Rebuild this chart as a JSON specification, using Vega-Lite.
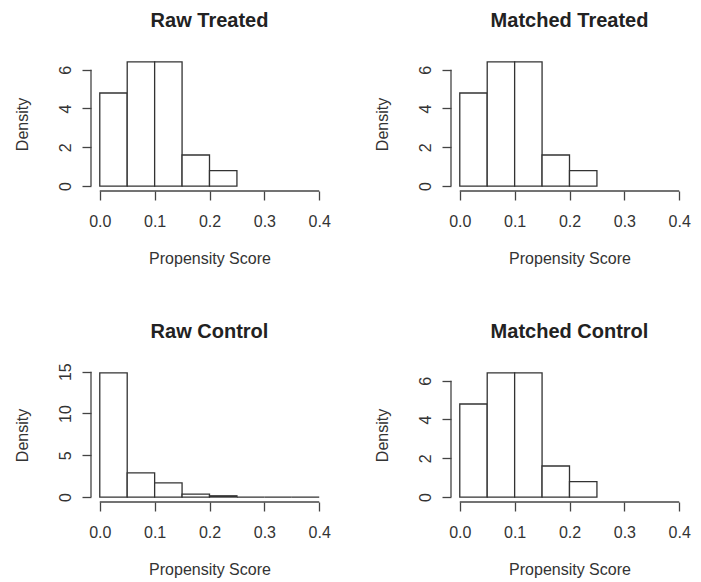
{
  "$schema": "https://vega.github.io/schema/vega-lite/v6.json",
  "background": "white",
  "padding": {"left": 14, "top": 11, "right": 5, "bottom": 5},
  "bounds": "flush",
  "spacing": {"row": 177, "column": 123},
  "columns": 2,
  "datasets": {
    "hist": [
      {"panel": "Raw Treated", "x0": 0.0, "x1": 0.05, "density": 4.8},
      {"panel": "Raw Treated", "x0": 0.05, "x1": 0.1, "density": 6.4},
      {"panel": "Raw Treated", "x0": 0.1, "x1": 0.15, "density": 6.4},
      {"panel": "Raw Treated", "x0": 0.15, "x1": 0.2, "density": 1.6},
      {"panel": "Raw Treated", "x0": 0.2, "x1": 0.25, "density": 0.8},
      {"panel": "Matched Treated", "x0": 0.0, "x1": 0.05, "density": 4.8},
      {"panel": "Matched Treated", "x0": 0.05, "x1": 0.1, "density": 6.4},
      {"panel": "Matched Treated", "x0": 0.1, "x1": 0.15, "density": 6.4},
      {"panel": "Matched Treated", "x0": 0.15, "x1": 0.2, "density": 1.6},
      {"panel": "Matched Treated", "x0": 0.2, "x1": 0.25, "density": 0.8},
      {"panel": "Raw Control", "x0": 0.0, "x1": 0.05, "density": 14.85},
      {"panel": "Raw Control", "x0": 0.05, "x1": 0.1, "density": 2.9},
      {"panel": "Raw Control", "x0": 0.1, "x1": 0.15, "density": 1.7},
      {"panel": "Raw Control", "x0": 0.15, "x1": 0.2, "density": 0.35},
      {"panel": "Raw Control", "x0": 0.2, "x1": 0.25, "density": 0.15},
      {"panel": "Raw Control", "x0": 0.25, "x1": 0.3, "density": 0},
      {"panel": "Raw Control", "x0": 0.3, "x1": 0.35, "density": 0},
      {"panel": "Raw Control", "x0": 0.35, "x1": 0.4, "density": 0},
      {"panel": "Matched Control", "x0": 0.0, "x1": 0.05, "density": 4.8},
      {"panel": "Matched Control", "x0": 0.05, "x1": 0.1, "density": 6.4},
      {"panel": "Matched Control", "x0": 0.1, "x1": 0.15, "density": 6.4},
      {"panel": "Matched Control", "x0": 0.15, "x1": 0.2, "density": 1.6},
      {"panel": "Matched Control", "x0": 0.2, "x1": 0.25, "density": 0.8}
    ]
  },
  "concat": [
    {
      "title": "Raw Treated",
      "width": 237, "height": 134,
      "layer": [
        {
          "data": {"name": "hist"},
          "transform": [{"filter": "datum.panel === 'Raw Treated'"}],
          "mark": {"type": "rect", "fill": "white", "stroke": "#333", "strokeWidth": 1.3},
          "encoding": {
            "x": {"field": "x0", "type": "quantitative", "title": "Propensity Score",
                  "scale": {"domain": [-0.016, 0.416], "nice": false, "zero": false},
                  "axis": {"values": [0, 0.1, 0.2, 0.3, 0.4], "format": ".1f"}},
            "x2": {"field": "x1"},
            "y": {"field": "density", "type": "quantitative", "title": "Density",
                  "scale": {"domain": [-0.256, 6.656], "nice": false, "zero": false},
                  "axis": {"values": [0, 1, 2, 3, 4, 5, 6], "labelExpr": "datum.value % 2 === 0 ? datum.label : ''"}},
            "y2": {"datum": 0}
          }
        },
        {
          "data": {"values": [{}]},
          "mark": {"type": "rule", "color": "#444", "strokeWidth": 1.3},
          "encoding": {"x": {"datum": 0}, "x2": {"datum": 0.4}, "y": {"datum": -0.256}}
        },
        {
          "data": {"values": [{}]},
          "mark": {"type": "rule", "color": "#444", "strokeWidth": 1.3},
          "encoding": {"y": {"datum": 0}, "y2": {"datum": 6}, "x": {"datum": -0.016}}
        }
      ]
    },
    {
      "title": "Matched Treated",
      "width": 237, "height": 134,
      "layer": [
        {
          "data": {"name": "hist"},
          "transform": [{"filter": "datum.panel === 'Matched Treated'"}],
          "mark": {"type": "rect", "fill": "white", "stroke": "#333", "strokeWidth": 1.3},
          "encoding": {
            "x": {"field": "x0", "type": "quantitative", "title": "Propensity Score",
                  "scale": {"domain": [-0.016, 0.416], "nice": false, "zero": false},
                  "axis": {"values": [0, 0.1, 0.2, 0.3, 0.4], "format": ".1f"}},
            "x2": {"field": "x1"},
            "y": {"field": "density", "type": "quantitative", "title": "Density",
                  "scale": {"domain": [-0.256, 6.656], "nice": false, "zero": false},
                  "axis": {"values": [0, 1, 2, 3, 4, 5, 6], "labelExpr": "datum.value % 2 === 0 ? datum.label : ''"}},
            "y2": {"datum": 0}
          }
        },
        {
          "data": {"values": [{}]},
          "mark": {"type": "rule", "color": "#444", "strokeWidth": 1.3},
          "encoding": {"x": {"datum": 0}, "x2": {"datum": 0.4}, "y": {"datum": -0.256}}
        },
        {
          "data": {"values": [{}]},
          "mark": {"type": "rule", "color": "#444", "strokeWidth": 1.3},
          "encoding": {"y": {"datum": 0}, "y2": {"datum": 6}, "x": {"datum": -0.016}}
        }
      ]
    },
    {
      "title": {"text": "Raw Control", "offset": 21},
      "width": 237, "height": 134,
      "layer": [
        {
          "data": {"name": "hist"},
          "transform": [{"filter": "datum.panel === 'Raw Control'"}],
          "mark": {"type": "rect", "fill": "white", "stroke": "#333", "strokeWidth": 1.3},
          "encoding": {
            "x": {"field": "x0", "type": "quantitative", "title": "Propensity Score",
                  "scale": {"domain": [-0.016, 0.416], "nice": false, "zero": false},
                  "axis": {"values": [0, 0.1, 0.2, 0.3, 0.4], "format": ".1f"}},
            "x2": {"field": "x1"},
            "y": {"field": "density", "type": "quantitative", "title": "Density",
                  "scale": {"domain": [-0.594, 15.444], "nice": false, "zero": false},
                  "axis": {"values": [0, 5, 10, 15]}},
            "y2": {"datum": 0}
          }
        },
        {
          "data": {"values": [{}]},
          "mark": {"type": "rule", "color": "#444", "strokeWidth": 1.3},
          "encoding": {"x": {"datum": 0}, "x2": {"datum": 0.4}, "y": {"datum": -0.594}}
        },
        {
          "data": {"values": [{}]},
          "mark": {"type": "rule", "color": "#444", "strokeWidth": 1.3},
          "encoding": {"y": {"datum": 0}, "y2": {"datum": 15}, "x": {"datum": -0.016}}
        }
      ]
    },
    {
      "title": "Matched Control",
      "width": 237, "height": 134,
      "layer": [
        {
          "data": {"name": "hist"},
          "transform": [{"filter": "datum.panel === 'Matched Control'"}],
          "mark": {"type": "rect", "fill": "white", "stroke": "#333", "strokeWidth": 1.3},
          "encoding": {
            "x": {"field": "x0", "type": "quantitative", "title": "Propensity Score",
                  "scale": {"domain": [-0.016, 0.416], "nice": false, "zero": false},
                  "axis": {"values": [0, 0.1, 0.2, 0.3, 0.4], "format": ".1f"}},
            "x2": {"field": "x1"},
            "y": {"field": "density", "type": "quantitative", "title": "Density",
                  "scale": {"domain": [-0.256, 6.656], "nice": false, "zero": false},
                  "axis": {"values": [0, 1, 2, 3, 4, 5, 6], "labelExpr": "datum.value % 2 === 0 ? datum.label : ''"}},
            "y2": {"datum": 0}
          }
        },
        {
          "data": {"values": [{}]},
          "mark": {"type": "rule", "color": "#444", "strokeWidth": 1.3},
          "encoding": {"x": {"datum": 0}, "x2": {"datum": 0.4}, "y": {"datum": -0.256}}
        },
        {
          "data": {"values": [{}]},
          "mark": {"type": "rule", "color": "#444", "strokeWidth": 1.3},
          "encoding": {"y": {"datum": 0}, "y2": {"datum": 6}, "x": {"datum": -0.016}}
        }
      ]
    }
  ],
  "config": {
    "font": "Liberation Sans",
    "view": {"stroke": null},
    "axis": {
      "grid": false, "domain": false,
      "tickColor": "#444", "tickSize": 9, "tickWidth": 1.3,
      "labelFont": "Liberation Sans", "labelFontSize": 16, "labelColor": "#333",
      "labelFlush": false, "labelOverlap": false,
      "titleFont": "Liberation Sans", "titleFontSize": 16, "titleFontWeight": "normal", "titleColor": "#333"
    },
    "axisX": {"labelPadding": 13, "titlePadding": 21, "labelAngle": 0},
    "axisY": {"labelAngle": -90, "labelAlign": "center", "labelBaseline": "alphabetic", "labelPadding": 12, "titlePadding": 26.5},
    "title": {"font": "Liberation Sans", "fontSize": 20, "fontWeight": "bold", "color": "#222", "baseline": "alphabetic", "offset": 26, "anchor": "middle", "frame": "group"}
  }
}
